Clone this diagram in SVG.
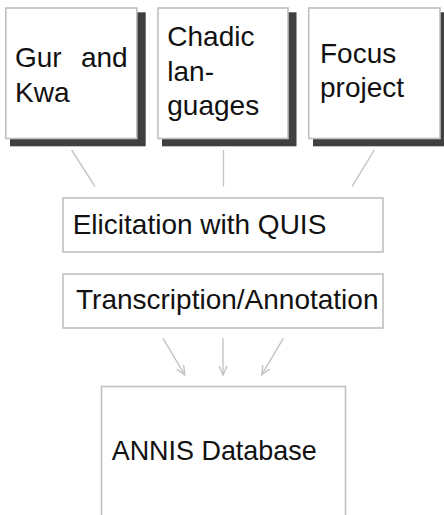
<svg xmlns="http://www.w3.org/2000/svg" width="444" height="515" viewBox="0 0 444 515">
  <defs>
    <style>
      .box { fill: #ffffff; stroke: #c0c0c0; stroke-width: 1.6; }
      .shadow { fill: #404040; }
      .label { font-family: "Liberation Sans", Arial, sans-serif; font-size: 28px; fill: #111111; }
      .link { stroke: #c4c4c4; stroke-width: 1.4; fill: none; }
    </style>
    <marker id="head" viewBox="0 0 10 10" refX="9" refY="5" markerWidth="10" markerHeight="10" markerUnits="userSpaceOnUse" orient="auto">
      <path d="M0,1 L9,5 L0,9" fill="none" stroke="#c4c4c4" stroke-width="1.4"/>
    </marker>
  </defs>
  <rect width="444" height="515" fill="#ffffff"/>

  <!-- connectors -->
  <g id="connectors">
    <line class="link" x1="71.7" y1="150" x2="95" y2="186.7"/>
    <line class="link" x1="223.5" y1="150" x2="223.5" y2="186.5"/>
    <line class="link" x1="374.3" y1="150" x2="352" y2="186.7"/>
    <line class="link" x1="163" y1="338.3" x2="184.8" y2="374.8" marker-end="url(#head)"/>
    <line class="link" x1="223" y1="338" x2="223" y2="375" marker-end="url(#head)"/>
    <line class="link" x1="283.3" y1="338.3" x2="261.7" y2="374.8" marker-end="url(#head)"/>
  </g>

  <!-- source projects -->
  <g id="gur-kwa">
    <rect class="shadow" x="10" y="12.3" width="135.7" height="134"/>
    <rect class="box" x="5.8" y="8" width="131" height="130.5"/>
    <text class="label" y="66.7"><tspan x="15">Gur</tspan><tspan x="127.7" text-anchor="end">and</tspan></text>
    <text class="label" x="15" y="101.7">Kwa</text>
  </g>

  <g id="chadic">
    <rect class="shadow" x="162" y="12.3" width="134.5" height="134"/>
    <rect class="box" x="158" y="8" width="130" height="130.5"/>
    <text class="label" x="167.3" y="46.3">Chadic</text>
    <text class="label" x="167.3" y="80.5">lan-</text>
    <text class="label" x="167.3" y="114.8">guages</text>
  </g>

  <g id="focus">
    <rect class="shadow" x="313" y="12.3" width="131" height="134"/>
    <rect class="box" x="308.7" y="8" width="131.3" height="130.5"/>
    <text class="label" x="320" y="63.3">Focus</text>
    <text class="label" x="320" y="97">project</text>
  </g>

  <!-- processing steps -->
  <g id="elicitation">
    <rect class="box" x="63" y="198" width="320" height="54"/>
    <text class="label" x="72.7" y="234.3">Elicitation with QUIS</text>
  </g>

  <g id="transcription">
    <rect class="box" x="63" y="274" width="320" height="54"/>
    <text class="label" x="76" y="309.3">Transcription/Annotation</text>
  </g>

  <g id="annis">
    <rect class="box" x="101.5" y="386.5" width="244" height="150"/>
    <text class="label" x="111.7" y="460" textLength="205" lengthAdjust="spacingAndGlyphs">ANNIS Database</text>
  </g>
</svg>
